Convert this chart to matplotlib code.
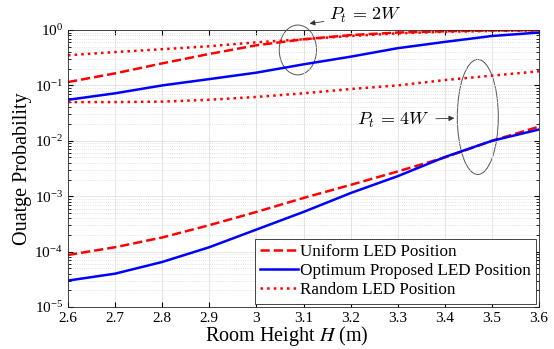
import numpy as np
import matplotlib
matplotlib.use("Agg")
import matplotlib.pyplot as plt
from matplotlib.patches import Ellipse

plt.rcParams["font.family"] = ["Liberation Serif", "DejaVu Serif"]
plt.rcParams["mathtext.fontset"] = "stix"

H = [2.6, 2.7, 2.8, 2.9, 3.0, 3.1, 3.2, 3.3, 3.4, 3.5, 3.6]

# Pt = 2W
uniform_2w = [0.115, 0.165, 0.25, 0.37, 0.53, 0.68, 0.81, 0.9, 0.95, 0.98, 0.99]
optimum_2w = [0.055, 0.072, 0.1, 0.13, 0.17, 0.24, 0.33, 0.47, 0.61, 0.78, 0.9]
random_2w = [0.35, 0.40, 0.45, 0.51, 0.6, 0.68, 0.78, 0.87, 0.93, 0.96, 0.98]

# Pt = 4W
uniform_4w = [8.7e-5, 1.2e-4, 1.8e-4, 3.0e-4, 5.2e-4, 9.3e-4, 1.6e-3, 2.8e-3, 5.0e-3, 1.0e-2, 1.8e-2]
optimum_4w = [3.0e-5, 4.0e-5, 6.5e-5, 1.2e-4, 2.5e-4, 5.2e-4, 1.14e-3, 2.3e-3, 5.1e-3, 1.0e-2, 1.6e-2]
random_4w = [0.05, 0.05, 0.051, 0.055, 0.062, 0.072, 0.086, 0.1, 0.125, 0.15, 0.18]

fig = plt.figure(figsize=(5.54, 3.49), dpi=100)
ax = fig.add_axes([0.1227, 0.1203, 0.8503, 0.7937])

lw = 1.8
ax.semilogy(H, uniform_2w, "r--", lw=lw, label="Uniform LED Position")
ax.semilogy(H, optimum_2w, "b-", lw=lw, label="Optimum Proposed LED Position")
ax.semilogy(H, random_2w, "r:", lw=lw, label="Random LED Position")
ax.semilogy(H, uniform_4w, "r--", lw=lw)
ax.semilogy(H, optimum_4w, "b-", lw=lw)
ax.semilogy(H, random_4w, "r:", lw=lw)

ax.set_xlim(2.6, 3.6)
ax.set_ylim(1e-5, 1)
ax.set_xticks(H)
ax.set_xticklabels(["2.6", "2.7", "2.8", "2.9", "3", "3.1", "3.2", "3.3", "3.4", "3.5", "3.6"])
ax.tick_params(which="both", direction="in", top=True, right=True, labelsize=11)
ax.tick_params(axis="x", which="minor", top=False, bottom=False)
ax.grid(True, which="major", color="#e0e0e0", lw=0.6)
ax.grid(True, which="minor", axis="y", color="#d9d9d9", lw=0.6, ls=":")
for s in ax.spines.values():
    s.set_color("#262626")
    s.set_linewidth(0.6)

ax.set_xlabel("Room Height $H$ (m)", fontsize=14.5)
ax.xaxis.set_label_coords(0.465, -0.062)
ax.set_ylabel("Ouatge Probability", fontsize=14.5, labelpad=2)

leg = ax.legend(loc="lower right", fontsize=12.3, handlelength=2.2, handletextpad=0.1,
                borderpad=0.3, labelspacing=0.2, fancybox=False, framealpha=1,
                borderaxespad=0.2)
leg.get_frame().set_edgecolor("#262626")
leg.get_frame().set_linewidth(0.6)

ax.add_patch(Ellipse((0.488, 0.928), 0.079, 0.18, transform=ax.transAxes,
                     fill=False, ec="#555555", lw=0.7, clip_on=False))
ax.add_patch(Ellipse((0.870, 0.686), 0.087, 0.415, transform=ax.transAxes,
                     fill=False, ec="#555555", lw=0.7, clip_on=False))

ax.annotate("$P_t\\,=\\,2W$", xy=(0.507, 1.022), xytext=(0.555, 1.052),
            xycoords="axes fraction", textcoords="axes fraction", fontsize=13,
            va="center", ha="left", math_fontfamily="cm",
            arrowprops=dict(arrowstyle="-|>", color="#333333", lw=0.6, mutation_scale=8))
ax.annotate("$P_t\\,=\\,4W$", xy=(0.826, 0.682), xytext=(0.769, 0.675),
            xycoords="axes fraction", textcoords="axes fraction", fontsize=13,
            va="center", ha="right", math_fontfamily="cm",
            arrowprops=dict(arrowstyle="-|>", color="#333333", lw=0.6, mutation_scale=8))

fig.savefig("out.png", dpi=100)
